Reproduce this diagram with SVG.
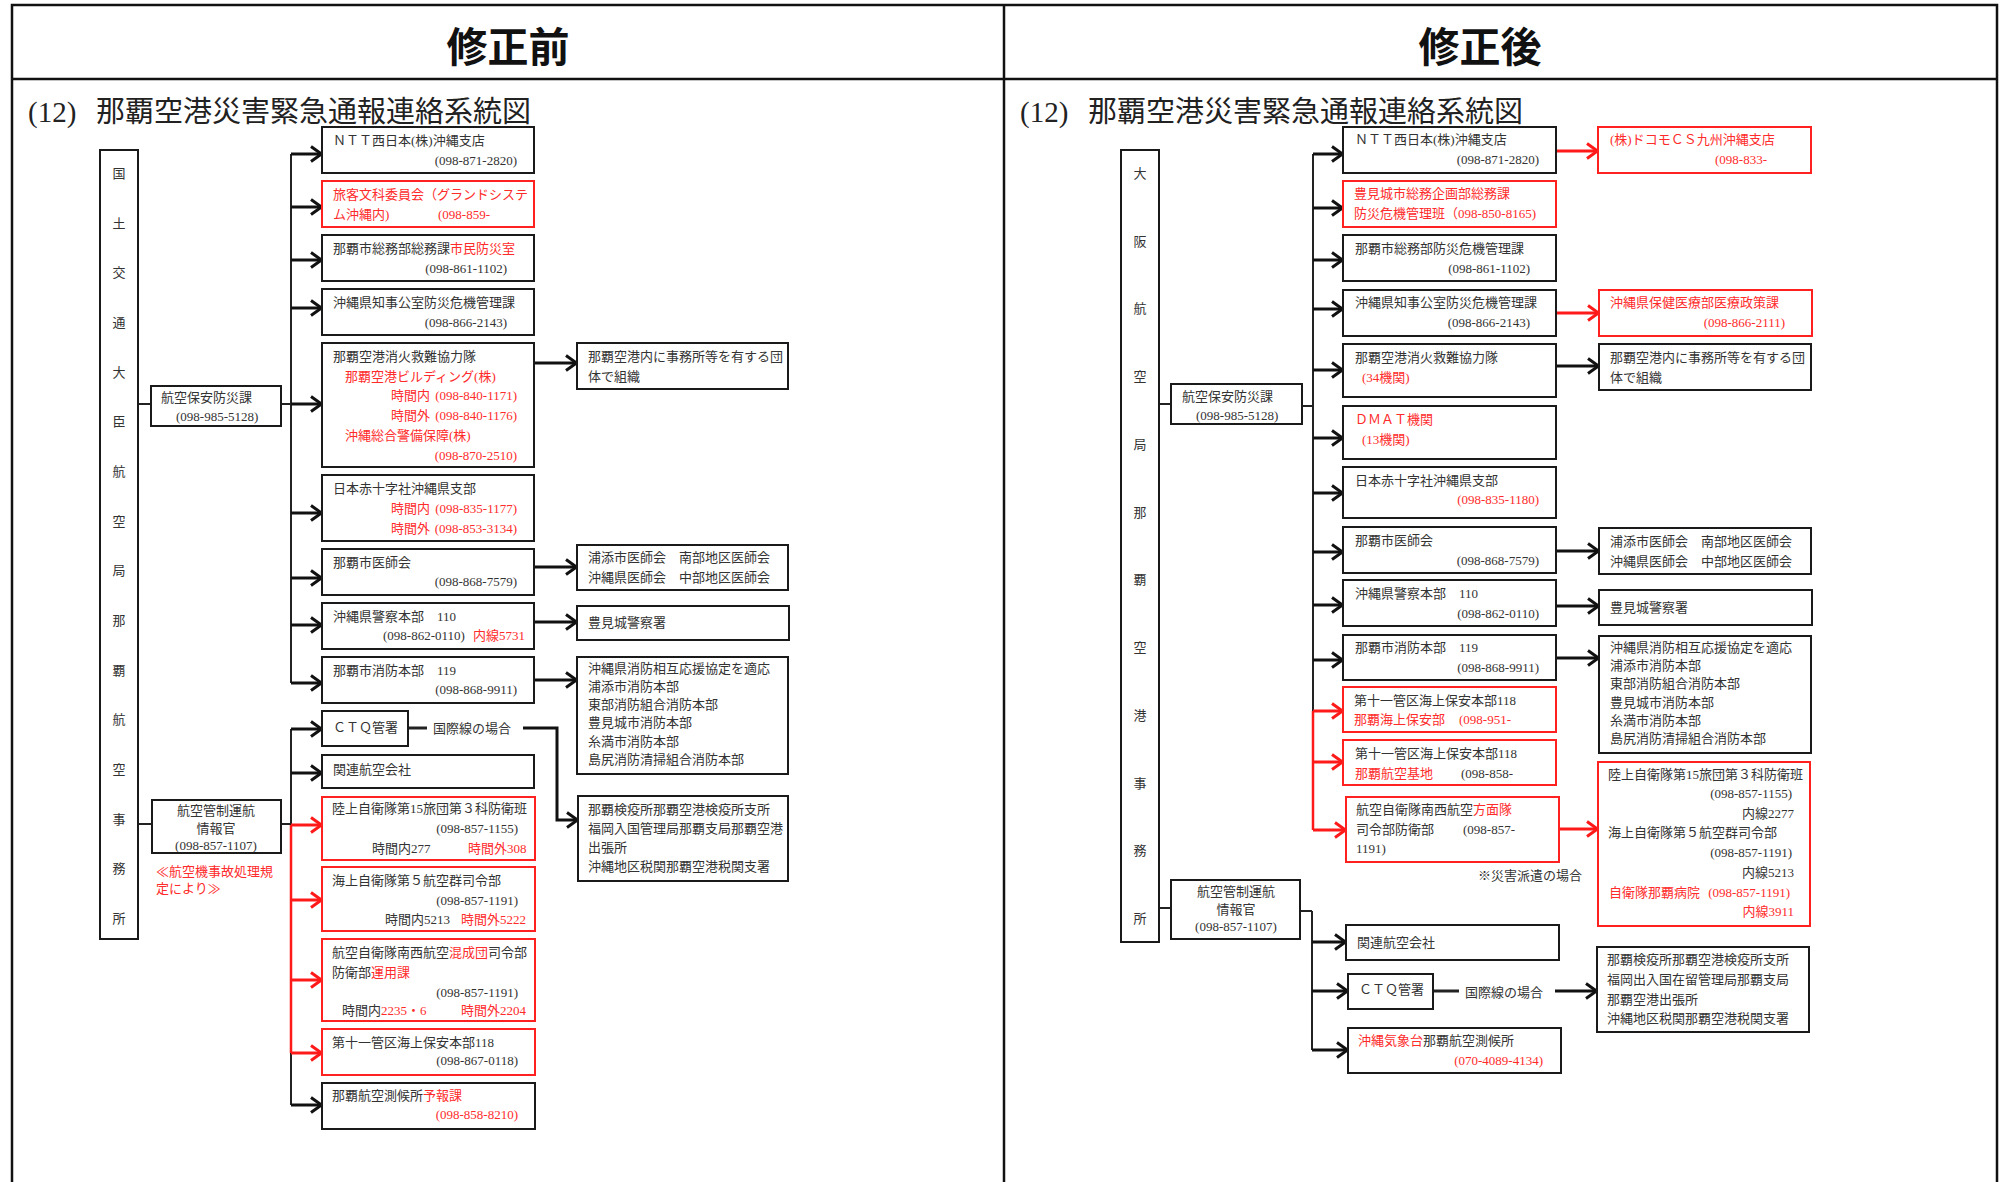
<svg xmlns="http://www.w3.org/2000/svg" width="2006" height="1182" viewBox="0 0 2006 1182">
<defs>
<style>
.b{fill:#fff;stroke:#1a1a1a;stroke-width:2}
.rb{fill:#fff;stroke:#ff2020;stroke-width:2}
.t{font-family:"Liberation Serif","Noto Sans CJK JP",serif;font-size:13px;fill:#333}
.r{fill:#ff2b2b}
.e{text-anchor:end}
.m{text-anchor:middle}
.ln{stroke:#222;stroke-width:2;fill:none}
.lr{stroke:#ff1a1a;stroke-width:2.5;fill:none}
.a{stroke:#111;stroke-width:3;fill:none;marker-end:url(#ah)}
.ar{stroke:#ff1a1a;stroke-width:3;fill:none;marker-end:url(#ahr)}
.fr{fill:none;stroke:#111;stroke-width:2.5}
.title{font-family:"Noto Sans CJK JP",sans-serif;font-size:41px;font-weight:bold;fill:#111;text-anchor:middle}
.sub{font-family:"Liberation Serif","Noto Sans CJK JP",serif;font-size:29px;fill:#222}
</style>
<marker id="ah" viewBox="0 0 14 18" refX="13" refY="9" markerWidth="14" markerHeight="18" markerUnits="userSpaceOnUse" orient="auto">
<path d="M2,1.5 L12.5,9 L2,16.5" fill="none" stroke="#111" stroke-width="3"/>
</marker>
<marker id="ahr" viewBox="0 0 14 18" refX="13" refY="9" markerWidth="14" markerHeight="18" markerUnits="userSpaceOnUse" orient="auto">
<path d="M2,1.5 L12.5,9 L2,16.5" fill="none" stroke="#ff1a1a" stroke-width="3"/>
</marker>
</defs>
<rect width="2006" height="1182" fill="#fff"/>
<g id="frame">
<rect class="fr" x="12" y="5" width="1985" height="1200"/>
<line class="fr" x1="1004" y1="5" x2="1004" y2="1190"/>
<line class="fr" x1="12" y1="79" x2="1997" y2="79"/>
<text class="title" x="508" y="62">修正前</text>
<text class="title" x="1480" y="62">修正後</text>
<text class="sub" y="122"><tspan x="28">(12)</tspan><tspan x="96">那覇空港災害緊急通報連絡系統図</tspan></text>
<text class="sub" y="122"><tspan x="1020">(12)</tspan><tspan x="1088">那覇空港災害緊急通報連絡系統図</tspan></text>
</g>

<!-- ===== LEFT: connectors ===== -->
<g id="connectors-left">
<line class="ln" x1="138" y1="404" x2="151" y2="404"/>
<line class="ln" x1="281" y1="404" x2="291" y2="404"/>
<line class="ln" x1="291" y1="154" x2="291" y2="683"/>
<line class="a" x1="291" y1="154" x2="322" y2="154"/>
<line class="a" x1="291" y1="207" x2="322" y2="207"/>
<line class="a" x1="291" y1="260" x2="322" y2="260"/>
<line class="a" x1="291" y1="308" x2="322" y2="308"/>
<line class="a" x1="291" y1="404" x2="322" y2="404"/>
<line class="a" x1="291" y1="513" x2="322" y2="513"/>
<line class="a" x1="291" y1="578" x2="322" y2="578"/>
<line class="a" x1="291" y1="625" x2="322" y2="625"/>
<line class="a" x1="291" y1="683" x2="322" y2="683"/>
<line class="a" x1="534" y1="363" x2="577" y2="363"/>
<line class="a" x1="535" y1="567" x2="577" y2="567"/>
<line class="a" x1="534" y1="622" x2="577" y2="622"/>
<line class="a" x1="534" y1="680" x2="577" y2="680"/>
<line class="ln" x1="138" y1="824" x2="152" y2="824"/>
<line class="ln" x1="281" y1="824" x2="291" y2="824"/>
<line class="ln" x1="291" y1="729" x2="291" y2="1105"/>
<line class="lr" x1="291" y1="825" x2="291" y2="1053"/>
<line class="a" x1="291" y1="729" x2="322" y2="729"/>
<line class="a" x1="291" y1="773" x2="322" y2="773"/>
<line class="ar" x1="291" y1="825" x2="322" y2="825"/>
<line class="ar" x1="291" y1="900" x2="322" y2="900"/>
<line class="ar" x1="291" y1="980" x2="322" y2="980"/>
<line class="ar" x1="291" y1="1053" x2="322" y2="1053"/>
<line class="a" x1="291" y1="1105" x2="322" y2="1105"/>
<line class="ln" x1="408" y1="728" x2="427" y2="728" style="stroke-width:3"/>
<polyline class="a" points="523,728 557,728 557,820 578,820"/>
<text class="t" x="433" y="733">国際線の場合</text>
</g>

<!-- ===== LEFT: nodes ===== -->
<g id="L-col">
<rect class="b" x="100" y="150" width="38" height="789"/>
<text class="t m"><tspan x="119" y="178">国</tspan><tspan x="119" y="228">土</tspan><tspan x="119" y="277">交</tspan><tspan x="119" y="327">通</tspan><tspan x="119" y="377">大</tspan><tspan x="119" y="426">臣</tspan><tspan x="119" y="476">航</tspan><tspan x="119" y="526">空</tspan><tspan x="119" y="575">局</tspan><tspan x="119" y="625">那</tspan><tspan x="119" y="675">覇</tspan><tspan x="119" y="724">航</tspan><tspan x="119" y="774">空</tspan><tspan x="119" y="824">事</tspan><tspan x="119" y="873">務</tspan><tspan x="119" y="923">所</tspan></text>
</g>
<g id="L-hoan">
<rect class="b" x="151" y="386" width="130" height="40"/>
<text class="t" x="161" y="402">航空保安防災課</text>
<text class="t" x="176" y="421">(098-985-5128)</text>
</g>
<g id="L-kansei">
<rect class="b" x="152" y="800" width="129" height="53"/>
<text class="t m" x="216" y="815">航空管制運航</text>
<text class="t m" x="216" y="833">情報官</text>
<text class="t m" x="216" y="850">(098-857-1107)</text>
<text class="t r" x="156" y="876">≪航空機事故処理規</text>
<text class="t r" x="156" y="893">定により≫</text>
</g>
<g id="L-ntt">
<rect class="b" x="322" y="127" width="212" height="46"/>
<text class="t" x="333" y="145">ＮＴＴ西日本(株)沖縄支店</text>
<text class="t e" x="517" y="165">(098-871-2820)</text>
</g>
<g id="L-ryokaku">
<rect class="rb" x="322" y="181" width="212" height="46"/>
<text class="t r" x="333" y="199">旅客文科委員会（グランドシステ</text>
<text class="t r" x="333" y="219">ム沖縄内)</text>
<text class="t r" x="438" y="219">(098-859-</text>
</g>
<g id="L-nahasomu">
<rect class="b" x="322" y="235" width="212" height="46"/>
<text class="t" x="333" y="253">那覇市総務部総務課<tspan class="r">市民防災室</tspan></text>
<text class="t e" x="507" y="273">(098-861-1102)</text>
</g>
<g id="L-chiji">
<rect class="b" x="322" y="289" width="212" height="46"/>
<text class="t" x="333" y="307">沖縄県知事公室防災危機管理課</text>
<text class="t e" x="507" y="327">(098-866-2143)</text>
</g>
<g id="L-shoka">
<rect class="b" x="322" y="343" width="212" height="124"/>
<text class="t" x="333" y="361">那覇空港消火救難協力隊</text>
<text class="t r" x="345" y="381">那覇空港ビルディング(株)</text>
<text class="t r" x="391" y="400">時間内</text>
<text class="t r e" x="517" y="400">(098-840-1171)</text>
<text class="t r" x="391" y="420">時間外</text>
<text class="t r e" x="517" y="420">(098-840-1176)</text>
<text class="t r" x="345" y="440">沖縄総合警備保障(株)</text>
<text class="t r e" x="517" y="460">(098-870-2510)</text>
</g>
<g id="L-sekijuji">
<rect class="b" x="322" y="475" width="212" height="66"/>
<text class="t" x="333" y="493">日本赤十字社沖縄県支部</text>
<text class="t r" x="391" y="513">時間内</text>
<text class="t r e" x="517" y="513">(098-835-1177)</text>
<text class="t r" x="391" y="533">時間外</text>
<text class="t r e" x="517" y="533">(098-853-3134)</text>
</g>
<g id="L-ishikai">
<rect class="b" x="322" y="549" width="212" height="46"/>
<text class="t" x="333" y="567">那覇市医師会</text>
<text class="t e" x="517" y="586">(098-868-7579)</text>
</g>
<g id="L-keisatsu">
<rect class="b" x="322" y="603" width="212" height="46"/>
<text class="t" x="333" y="621">沖縄県警察本部　110</text>
<text class="t" x="383" y="640">(098-862-0110)</text>
<text class="t r" x="473" y="640">内線5731</text>
</g>
<g id="L-shobo">
<rect class="b" x="322" y="657" width="212" height="46"/>
<text class="t" x="333" y="675">那覇市消防本部　119</text>
<text class="t e" x="517" y="694">(098-868-9911)</text>
</g>
<g id="L-ctq">
<rect class="b" x="322" y="711" width="86" height="35"/>
<text class="t" x="333" y="732">ＣＴＱ管署</text>
</g>
<g id="L-kanren">
<rect class="b" x="322" y="755" width="212" height="33"/>
<text class="t" x="333" y="774">関連航空会社</text>
</g>
<g id="L-rikujo">
<rect class="rb" x="322" y="797" width="213" height="63"/>
<text class="t" x="332" y="813">陸上自衛隊第15旅団第３科防衛班</text>
<text class="t e" x="518" y="833">(098-857-1155)</text>
<text class="t" x="372" y="853">時間内277</text>
<text class="t r" x="468" y="853">時間外308</text>
</g>
<g id="L-kaijo">
<rect class="rb" x="322" y="867" width="213" height="64"/>
<text class="t" x="332" y="885">海上自衛隊第５航空群司令部</text>
<text class="t e" x="518" y="905">(098-857-1191)</text>
<text class="t" x="385" y="924">時間内5213</text>
<text class="t r" x="461" y="924">時間外5222</text>
</g>
<g id="L-koku">
<rect class="rb" x="322" y="939" width="213" height="82"/>
<text class="t" x="332" y="957">航空自衛隊南西航空<tspan class="r">混成団</tspan>司令部</text>
<text class="t" x="332" y="977">防衛部<tspan class="r">運用課</tspan></text>
<text class="t e" x="518" y="997">(098-857-1191)</text>
<text class="t" x="342" y="1015">時間内<tspan class="r">2235・6</tspan></text>
<text class="t r" x="461" y="1015">時間外2204</text>
</g>
<g id="L-kaiho">
<rect class="rb" x="322" y="1029" width="213" height="46"/>
<text class="t" x="332" y="1047">第十一管区海上保安本部118</text>
<text class="t e" x="518" y="1065">(098-867-0118)</text>
</g>
<g id="L-sokko">
<rect class="b" x="322" y="1083" width="213" height="46"/>
<text class="t" x="332" y="1100">那覇航空測候所<tspan class="r">予報課</tspan></text>
<text class="t r e" x="518" y="1119">(098-858-8210)</text>
</g>
<g id="L-dantai">
<rect class="b" x="577" y="343" width="211" height="46"/>
<text class="t" x="588" y="361">那覇空港内に事務所等を有する団</text>
<text class="t" x="588" y="381">体で組織</text>
</g>
<g id="L-urasoe">
<rect class="b" x="577" y="545" width="211" height="45"/>
<text class="t" x="588" y="562">浦添市医師会　南部地区医師会</text>
<text class="t" x="588" y="582">沖縄県医師会　中部地区医師会</text>
</g>
<g id="L-tomigusuku">
<rect class="b" x="577" y="606" width="212" height="34"/>
<text class="t" x="588" y="627">豊見城警察署</text>
</g>
<g id="L-shobokyotei">
<rect class="b" x="577" y="657" width="211" height="117"/>
<text class="t" x="588" y="673">沖縄県消防相互応援協定を適応</text>
<text class="t" x="588" y="691">浦添市消防本部</text>
<text class="t" x="588" y="709">東部消防組合消防本部</text>
<text class="t" x="588" y="727">豊見城市消防本部</text>
<text class="t" x="588" y="746">糸満市消防本部</text>
<text class="t" x="588" y="764">島尻消防清掃組合消防本部</text>
</g>
<g id="L-keneki">
<rect class="b" x="578" y="796" width="210" height="85"/>
<text class="t" x="588" y="814">那覇検疫所那覇空港検疫所支所</text>
<text class="t" x="588" y="833">福岡入国管理局那覇支局那覇空港</text>
<text class="t" x="588" y="852">出張所</text>
<text class="t" x="588" y="871">沖縄地区税関那覇空港税関支署</text>
</g>

<!-- ===== RIGHT: connectors ===== -->
<g id="connectors-right">
<line class="ln" x1="1159" y1="404" x2="1171" y2="404"/>
<line class="ln" x1="1302" y1="406" x2="1313" y2="406"/>
<line class="ln" x1="1313" y1="154" x2="1313" y2="711"/>
<line class="lr" x1="1313" y1="711" x2="1313" y2="830"/>
<line class="a" x1="1313" y1="154" x2="1343" y2="154"/>
<line class="a" x1="1313" y1="208" x2="1343" y2="208"/>
<line class="a" x1="1313" y1="260" x2="1343" y2="260"/>
<line class="a" x1="1313" y1="309" x2="1343" y2="309"/>
<line class="a" x1="1313" y1="370" x2="1343" y2="370"/>
<line class="a" x1="1313" y1="438" x2="1343" y2="438"/>
<line class="a" x1="1313" y1="493" x2="1343" y2="493"/>
<line class="a" x1="1313" y1="552" x2="1343" y2="552"/>
<line class="a" x1="1313" y1="605" x2="1343" y2="605"/>
<line class="a" x1="1313" y1="660" x2="1343" y2="660"/>
<line class="ar" x1="1313" y1="711" x2="1343" y2="711"/>
<line class="ar" x1="1313" y1="762" x2="1343" y2="762"/>
<line class="ar" x1="1313" y1="830" x2="1346" y2="830"/>
<line class="ar" x1="1556" y1="151" x2="1598" y2="151"/>
<line class="ar" x1="1556" y1="313" x2="1599" y2="313"/>
<line class="a" x1="1556" y1="366" x2="1599" y2="366"/>
<line class="a" x1="1556" y1="551" x2="1599" y2="551"/>
<line class="a" x1="1555" y1="606" x2="1599" y2="606"/>
<line class="a" x1="1556" y1="658" x2="1599" y2="658"/>
<line class="ar" x1="1559" y1="829" x2="1598" y2="829"/>
<line class="ln" x1="1159" y1="908" x2="1171" y2="908"/>
<line class="ln" x1="1300" y1="911" x2="1312" y2="911"/>
<line class="ln" x1="1312" y1="911" x2="1312" y2="1050"/>
<line class="a" x1="1312" y1="942" x2="1346" y2="942"/>
<line class="a" x1="1312" y1="991" x2="1348" y2="991"/>
<line class="a" x1="1312" y1="1050" x2="1348" y2="1050"/>
<line class="ln" x1="1433" y1="991" x2="1459" y2="991" style="stroke-width:3"/>
<line class="a" x1="1555" y1="991" x2="1597" y2="991"/>
<text class="t" x="1465" y="997">国際線の場合</text>
<text class="t" x="1478" y="880">※災害派遣の場合</text>
</g>

<!-- ===== RIGHT: nodes ===== -->
<g id="R-col">
<rect class="b" x="1121" y="150" width="38" height="792"/>
<text class="t m"><tspan x="1140" y="178">大</tspan><tspan x="1140" y="246">阪</tspan><tspan x="1140" y="313">航</tspan><tspan x="1140" y="381">空</tspan><tspan x="1140" y="449">局</tspan><tspan x="1140" y="517">那</tspan><tspan x="1140" y="584">覇</tspan><tspan x="1140" y="652">空</tspan><tspan x="1140" y="720">港</tspan><tspan x="1140" y="788">事</tspan><tspan x="1140" y="855">務</tspan><tspan x="1140" y="923">所</tspan></text>
</g>
<g id="R-hoan">
<rect class="b" x="1171" y="384" width="131" height="40"/>
<text class="t" x="1182" y="401">航空保安防災課</text>
<text class="t" x="1196" y="420">(098-985-5128)</text>
</g>
<g id="R-kansei">
<rect class="b" x="1171" y="880" width="129" height="59"/>
<text class="t m" x="1236" y="896">航空管制運航</text>
<text class="t m" x="1236" y="914">情報官</text>
<text class="t m" x="1236" y="931">(098-857-1107)</text>
</g>
<g id="R-ntt">
<rect class="b" x="1343" y="127" width="213" height="46"/>
<text class="t" x="1355" y="144">ＮＴＴ西日本(株)沖縄支店</text>
<text class="t e" x="1539" y="164">(098-871-2820)</text>
</g>
<g id="R-tomisomu">
<rect class="rb" x="1343" y="181" width="213" height="46"/>
<text class="t r" x="1354" y="198">豊見城市総務企画部総務課</text>
<text class="t r" x="1354" y="218">防災危機管理班（098-850-8165)</text>
</g>
<g id="R-nahasomu">
<rect class="b" x="1343" y="235" width="213" height="46"/>
<text class="t" x="1355" y="253">那覇市総務部防災危機管理課</text>
<text class="t e" x="1530" y="273">(098-861-1102)</text>
</g>
<g id="R-chiji">
<rect class="b" x="1343" y="290" width="213" height="46"/>
<text class="t" x="1355" y="307">沖縄県知事公室防災危機管理課</text>
<text class="t e" x="1530" y="327">(098-866-2143)</text>
</g>
<g id="R-shoka">
<rect class="b" x="1343" y="344" width="213" height="53"/>
<text class="t" x="1355" y="362">那覇空港消火救難協力隊</text>
<text class="t r" x="1362" y="382">(34機関)</text>
</g>
<g id="R-dmat">
<rect class="b" x="1343" y="406" width="213" height="53"/>
<text class="t r" x="1355" y="424">ＤＭＡＴ機関</text>
<text class="t r" x="1362" y="444">(13機関)</text>
</g>
<g id="R-sekijuji">
<rect class="b" x="1343" y="467" width="213" height="51"/>
<text class="t" x="1355" y="485">日本赤十字社沖縄県支部</text>
<text class="t r e" x="1539" y="504">(098-835-1180)</text>
</g>
<g id="R-ishikai">
<rect class="b" x="1343" y="527" width="213" height="46"/>
<text class="t" x="1355" y="545">那覇市医師会</text>
<text class="t e" x="1539" y="565">(098-868-7579)</text>
</g>
<g id="R-keisatsu">
<rect class="b" x="1343" y="580" width="213" height="46"/>
<text class="t" x="1355" y="598">沖縄県警察本部　110</text>
<text class="t e" x="1539" y="618">(098-862-0110)</text>
</g>
<g id="R-shobo">
<rect class="b" x="1343" y="635" width="213" height="45"/>
<text class="t" x="1355" y="652">那覇市消防本部　119</text>
<text class="t e" x="1539" y="672">(098-868-9911)</text>
</g>
<g id="R-kaiho1">
<rect class="rb" x="1343" y="687" width="213" height="45"/>
<text class="t" x="1354" y="705">第十一管区海上保安本部118</text>
<text class="t r" x="1354" y="724">那覇海上保安部</text>
<text class="t r" x="1459" y="724">(098-951-</text>
</g>
<g id="R-kaiho2">
<rect class="rb" x="1343" y="740" width="213" height="45"/>
<text class="t" x="1355" y="758">第十一管区海上保安本部118</text>
<text class="t r" x="1355" y="778">那覇航空基地</text>
<text class="t" x="1461" y="778">(098-858-</text>
</g>
<g id="R-koku">
<rect class="rb" x="1346" y="797" width="213" height="65"/>
<text class="t" x="1356" y="814">航空自衛隊南西航空<tspan class="r">方面隊</tspan></text>
<text class="t" x="1356" y="834">司令部防衛部</text>
<text class="t" x="1463" y="834">(098-857-</text>
<text class="t" x="1356" y="853">1191)</text>
</g>
<g id="R-kanren">
<rect class="b" x="1346" y="925" width="213" height="35"/>
<text class="t" x="1357" y="947">関連航空会社</text>
</g>
<g id="R-ctq">
<rect class="b" x="1348" y="974" width="85" height="35"/>
<text class="t" x="1359" y="994">ＣＴＱ管署</text>
</g>
<g id="R-kishodai">
<rect class="b" x="1348" y="1028" width="213" height="45"/>
<text class="t" x="1358" y="1045"><tspan class="r">沖縄気象台</tspan>那覇航空測候所</text>
<text class="t r e" x="1543" y="1065">(070-4089-4134)</text>
</g>
<g id="R-docomo">
<rect class="rb" x="1598" y="127" width="213" height="46"/>
<text class="t r" x="1610" y="144">(株)ドコモＣＳ九州沖縄支店</text>
<text class="t r" x="1715" y="164">(098-833-</text>
</g>
<g id="R-hoken">
<rect class="rb" x="1599" y="290" width="213" height="46"/>
<text class="t r" x="1610" y="307">沖縄県保健医療部医療政策課</text>
<text class="t r e" x="1785" y="327">(098-866-2111)</text>
</g>
<g id="R-dantai">
<rect class="b" x="1599" y="344" width="212" height="46"/>
<text class="t" x="1610" y="362">那覇空港内に事務所等を有する団</text>
<text class="t" x="1610" y="382">体で組織</text>
</g>
<g id="R-urasoe">
<rect class="b" x="1599" y="528" width="212" height="46"/>
<text class="t" x="1610" y="546">浦添市医師会　南部地区医師会</text>
<text class="t" x="1610" y="566">沖縄県医師会　中部地区医師会</text>
</g>
<g id="R-tomigusuku">
<rect class="b" x="1599" y="590" width="213" height="35"/>
<text class="t" x="1610" y="612">豊見城警察署</text>
</g>
<g id="R-shobokyotei">
<rect class="b" x="1599" y="636" width="212" height="117"/>
<text class="t" x="1610" y="652">沖縄県消防相互応援協定を適応</text>
<text class="t" x="1610" y="670">浦添市消防本部</text>
<text class="t" x="1610" y="688">東部消防組合消防本部</text>
<text class="t" x="1610" y="707">豊見城市消防本部</text>
<text class="t" x="1610" y="725">糸満市消防本部</text>
<text class="t" x="1610" y="743">島尻消防清掃組合消防本部</text>
</g>
<g id="R-jieitai">
<rect class="rb" x="1598" y="762" width="212" height="164"/>
<text class="t" x="1608" y="779">陸上自衛隊第15旅団第３科防衛班</text>
<text class="t e" x="1792" y="798">(098-857-1155)</text>
<text class="t e" x="1794" y="818">内線2277</text>
<text class="t" x="1608" y="837">海上自衛隊第５航空群司令部</text>
<text class="t e" x="1792" y="857">(098-857-1191)</text>
<text class="t e" x="1794" y="877">内線5213</text>
<text class="t r" x="1609" y="897">自衛隊那覇病院</text>
<text class="t r e" x="1790" y="897">(098-857-1191)</text>
<text class="t r e" x="1794" y="916">内線3911</text>
</g>
<g id="R-keneki">
<rect class="b" x="1597" y="947" width="212" height="85"/>
<text class="t" x="1607" y="964">那覇検疫所那覇空港検疫所支所</text>
<text class="t" x="1607" y="984">福岡出入国在留管理局那覇支局</text>
<text class="t" x="1607" y="1004">那覇空港出張所</text>
<text class="t" x="1607" y="1023">沖縄地区税関那覇空港税関支署</text>
</g>
</svg>
